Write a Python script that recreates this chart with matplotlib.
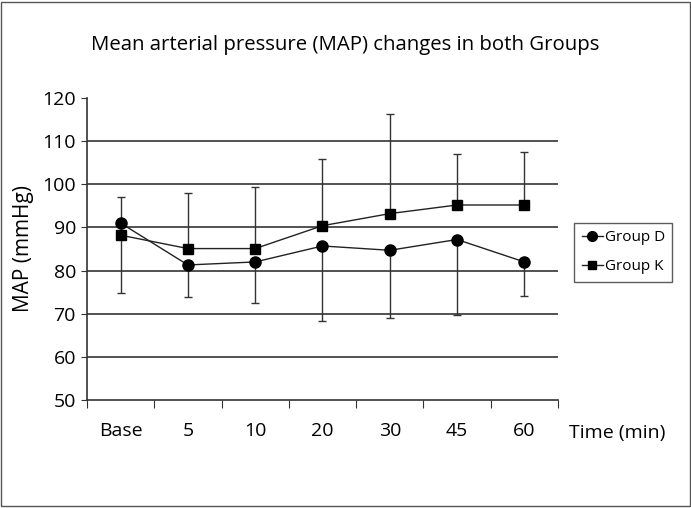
import matplotlib
matplotlib.use("Agg")
import matplotlib.pyplot as plt
from matplotlib.patches import Rectangle
from matplotlib.lines import Line2D

categories = ["Base", "5", "10", "20", "30", "45", "60"]
group_d = [91.0, 81.3, 82.0, 85.7, 84.7, 87.2, 82.0]
group_k = [88.2, 85.1, 85.1, 90.4, 93.2, 95.2, 95.2]
group_d_lower = [74.8, 73.8, 72.5, 68.3, 68.9, 69.7, 74.1]
group_k_upper = [97.0, 98.0, 99.3, 105.8, 116.4, 107.0, 107.4]
yticks = [50, 60, 70, 80, 90, 100, 110, 120]

plt.rcParams['font.family'] = ['Open Sans', 'DejaVu Sans']

fig = plt.figure(figsize=(6.91, 5.08), dpi=100)
ax = fig.add_axes([0.1259, 0.2126, 0.6816, 0.5945])

x = list(range(len(categories)))
dlo = [d - l for d, l in zip(group_d, group_d_lower)]
kup = [u - k for k, u in zip(group_k, group_k_upper)]

ax.errorbar(x, group_d, yerr=[dlo, [0]*len(x)], color='#222222', lw=1.0,
            marker='o', ms=8, mfc='black', mec='black', ecolor='#333333',
            elinewidth=1.0, capsize=3, capthick=1.0, zorder=3)
ax.errorbar(x, group_k, yerr=[[0]*len(x), kup], color='#222222', lw=1.0,
            marker='s', ms=7, mfc='black', mec='black', ecolor='#333333',
            elinewidth=1.0, capsize=3, capthick=1.0, zorder=3)

ax.set_xlim(-0.5, len(categories) - 0.5)
ax.set_ylim(50, 120)
ax.set_yticks(yticks)
for v in yticks[1:-1]:
    ax.axhline(v, color='#333333', lw=1.2, zorder=1)

ax.set_xticks([i - 0.5 for i in range(len(categories) + 1)])
ax.set_xticklabels([])
ax.set_xticks(x, minor=True)
ax.set_xticklabels(categories, minor=True, fontsize=14)
ax.tick_params(axis='x', which='minor', length=0, pad=16)
ax.tick_params(axis='x', which='major', length=6, direction='out', color='#333333')
ax.tick_params(axis='y', length=4, labelsize=14, color='#333333', pad=4)

for s in ['top', 'right']:
    ax.spines[s].set_visible(False)
for s in ['left', 'bottom']:
    ax.spines[s].set_color('#333333')
    ax.spines[s].set_linewidth(1.2)

ax.set_ylabel('MAP (mmHg)', fontsize=15, labelpad=6)
fig.text(0.823, 0.148, 'Time (min)', fontsize=14, ha='left', va='center')
fig.text(0.499, 0.912, 'Mean arterial pressure (MAP) changes in both Groups',
         fontsize=14.7, ha='center', va='center')

handles = [
    Line2D([], [], color='#222222', lw=1.0, marker='o', ms=7, mfc='black', mec='black'),
    Line2D([], [], color='#222222', lw=1.0, marker='s', ms=6, mfc='black', mec='black'),
]
leg = ax.legend(handles, ['Group D', 'Group K'], loc='center left',
                bbox_to_anchor=(1.034, 0.49), fontsize=11,
                frameon=True, fancybox=False, edgecolor='#333333',
                handlelength=1.4, handletextpad=0.1, borderpad=0.5,
                labelspacing=0.9, borderaxespad=0)
leg.get_frame().set_linewidth(1.0)

fig.patches.append(Rectangle((0.002, 0.003), 0.996, 0.994, transform=fig.transFigure,
                             fill=False, edgecolor='#555555', lw=1.0))

fig.savefig('out.png', dpi=100)
